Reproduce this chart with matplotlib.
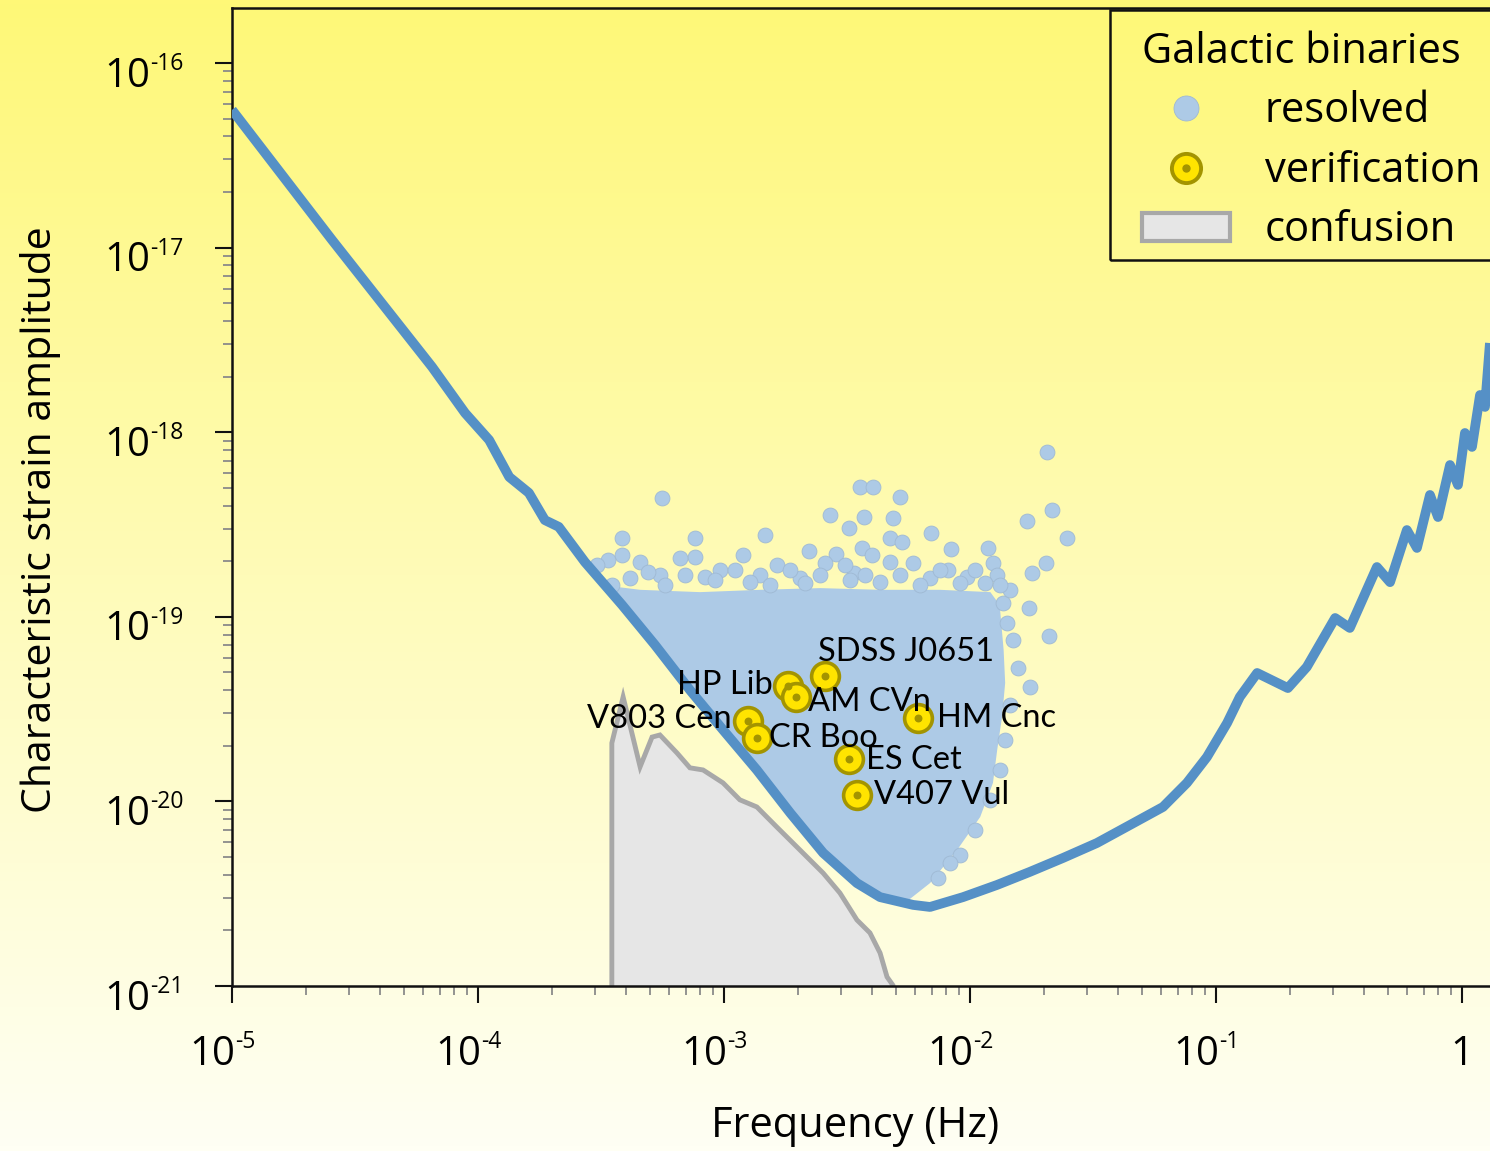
import numpy as np
import matplotlib
matplotlib.use("Agg")
import matplotlib.pyplot as plt
from matplotlib.lines import Line2D
from matplotlib.patches import Patch, Rectangle
from matplotlib.colors import LinearSegmentedColormap
from matplotlib.ticker import FixedLocator, LogLocator, NullFormatter

# LISA sensitivity curve: frequency (Hz) and characteristic strain
sens_freq = [1.00e-5, 2.55e-5, 6.50e-5, 8.86e-5, 1.11e-4, 1.34e-4, 1.61e-4, 1.87e-4,
             2.13e-4, 2.72e-4, 3.85e-4, 5.24e-4, 7.27e-4, 9.91e-4, 1.36e-3, 1.86e-3,
             2.53e-3, 3.47e-3, 4.31e-3, 5.87e-3, 6.88e-3, 9.37e-3, 1.29e-2, 1.75e-2,
             2.39e-2, 3.28e-2, 4.47e-2, 6.09e-2, 7.62e-2, 9.19e-2, 0.111, 0.125,
             0.147, 0.196, 0.234, 0.305, 0.350, 0.451, 0.510, 0.597, 0.656, 0.741,
             0.799, 0.894, 0.963, 1.028, 1.098, 1.184, 1.240, 1.299]
sens_strain = [5.57e-17, 1.10e-17, 2.26e-18, 1.27e-18, 9.07e-19, 5.72e-19, 4.69e-19, 3.34e-19,
               3.07e-19, 1.98e-19, 1.16e-19, 7.04e-20, 4.01e-20, 2.44e-20, 1.48e-20, 8.65e-21,
               5.26e-21, 3.61e-21, 3.03e-21, 2.75e-21, 2.68e-21, 3.03e-21, 3.53e-21, 4.15e-21,
               4.94e-21, 5.95e-21, 7.45e-21, 9.33e-21, 1.26e-20, 1.74e-20, 2.66e-20, 3.68e-20,
               4.96e-20, 4.11e-20, 5.35e-20, 9.85e-20, 8.70e-20, 1.86e-19, 1.54e-19, 2.95e-19,
               2.36e-19, 4.57e-19, 3.47e-19, 6.64e-19, 5.18e-19, 9.90e-19, 8.32e-19, 1.59e-18,
               1.37e-18, 3.04e-18]

# galactic confusion foreground (outline)
conf_freq = [3.50e-4, 3.50e-4, 3.89e-4, 4.56e-4, 5.10e-4, 5.49e-4, 6.44e-4, 7.27e-4,
             8.22e-4, 9.91e-4, 1.16e-3, 1.36e-3, 1.64e-3, 1.98e-3, 2.53e-3, 2.96e-3,
             3.47e-3, 3.92e-3, 4.31e-3, 4.60e-3, 4.86e-3, 5.00e-3]
conf_strain = [5e-22, 2.07e-20, 3.68e-20, 1.54e-20, 2.23e-20, 2.29e-20, 1.83e-20, 1.52e-20,
               1.48e-20, 1.26e-20, 1.02e-20, 9.33e-21, 7.26e-21, 5.66e-21, 4.09e-21, 3.19e-21,
               2.28e-21, 1.94e-21, 1.51e-21, 1.12e-21, 1.01e-21, 5e-22]

# dense part of the resolved binaries (outline of the packed cloud)
cloud_freq = [3.13e-4, 4.56e-4, 7.99e-4, 1.40e-3, 2.46e-3, 4.31e-3, 7.55e-3, 1.21e-2, 1.32e-2,
              1.37e-2, 1.39e-2, 1.35e-2, 1.29e-2, 1.24e-2, 1.10e-2, 8.86e-3, 6.88e-3, 5.44e-3,
              4.31e-3, 3.47e-3, 2.53e-3, 1.86e-3, 1.36e-3, 9.91e-4, 7.27e-4, 5.24e-4, 3.85e-4]
cloud_strain = [1.49e-19, 1.40e-19, 1.36e-19, 1.40e-19, 1.43e-19, 1.40e-19, 1.40e-19, 1.36e-19, 1.16e-19,
                6.61e-20, 4.38e-20, 2.87e-20, 1.90e-20, 1.26e-20, 8.23e-21, 5.45e-21, 3.61e-21, 2.82e-21,
                2.92e-21, 3.44e-21, 5.00e-21, 8.23e-21, 1.41e-20, 2.32e-20, 3.82e-20, 6.69e-20, 1.10e-19]

# individually visible resolved binaries
res_freq = [5.60e-4, 3.85e-4, 7.62e-4, 1.47e-3, 2.70e-3, 3.22e-3, 3.71e-3, 3.57e-3, 4.03e-3,
            5.19e-3, 4.86e-3, 4.73e-3, 5.29e-3, 6.94e-3, 8.37e-3, 1.18e-2, 1.70e-2, 2.15e-2,
            2.06e-2, 2.48e-2, 2.04e-2, 1.79e-2, 1.74e-2, 2.10e-2, 1.57e-2, 1.75e-2, 2.22e-3,
            2.85e-3, 3.64e-3, 4.00e-3, 4.73e-3, 3.38e-3, 1.19e-3, 7.62e-4, 3.85e-4, 3.38e-4,
            3.05e-4, 4.56e-4, 6.62e-4, 8.37e-4, 1.64e-3, 2.57e-3, 5.87e-3, 8.14e-3, 9.72e-3,
            1.24e-2, 1.29e-2, 1.15e-2, 1.36e-2, 1.41e-2, 9.11e-3, 8.30e-3, 7.41e-3, 5.49e-4,
            9.63e-4, 1.40e-3, 2.04e-3, 3.25e-3, 6.88e-3, 1.45e-2, 1.50e-2, 1.45e-2, 1.39e-2,
            1.32e-2, 1.21e-2, 1.05e-2,
            3.50e-4, 4.15e-4, 4.91e-4, 5.76e-4, 6.94e-4, 9.19e-4, 1.11e-3, 1.28e-3, 1.54e-3,
            1.86e-3, 2.13e-3, 2.46e-3, 3.10e-3, 3.74e-3, 4.31e-3, 5.19e-3, 6.26e-3, 7.55e-3,
            9.11e-3, 1.05e-2, 1.32e-2]
res_strain = [4.40e-19, 2.67e-19, 2.67e-19, 2.77e-19, 3.56e-19, 3.03e-19, 3.47e-19, 5.05e-19, 5.05e-19,
              4.46e-19, 3.43e-19, 2.67e-19, 2.54e-19, 2.84e-19, 2.33e-19, 2.36e-19, 3.30e-19, 3.79e-19,
              7.81e-19, 2.67e-19, 1.96e-19, 1.73e-19, 1.12e-19, 7.87e-20, 5.28e-20, 4.17e-20, 2.27e-19,
              2.19e-19, 2.36e-19, 2.16e-19, 1.98e-19, 1.73e-19, 2.16e-19, 2.11e-19, 2.16e-19, 2.03e-19,
              1.91e-19, 1.98e-19, 2.08e-19, 1.64e-19, 1.91e-19, 1.96e-19, 1.96e-19, 1.79e-19, 1.64e-19,
              1.96e-19, 1.68e-19, 1.52e-19, 1.19e-19, 9.26e-20, 5.12e-21, 4.64e-21, 3.85e-21, 1.68e-19,
              1.79e-19, 1.68e-19, 1.62e-19, 1.58e-19, 1.62e-19, 1.40e-19, 7.49e-20, 3.33e-20, 2.15e-20,
              1.48e-20, 1.02e-20, 7.00e-21,
              1.49e-19, 1.62e-19, 1.75e-19, 1.49e-19, 1.68e-19, 1.58e-19, 1.79e-19, 1.54e-19, 1.49e-19,
              1.79e-19, 1.52e-19, 1.68e-19, 1.91e-19, 1.68e-19, 1.54e-19, 1.68e-19, 1.49e-19, 1.79e-19,
              1.52e-19, 1.79e-19, 1.49e-19]

# verification binaries
ver_names = ["SDSS J0651", "HP Lib", "AM CVn", "V803 Cen", "CR Boo", "ES Cet", "V407 Vul", "HM Cnc"]
ver_freq = [2.58e-3, 1.82e-3, 1.96e-3, 1.25e-3, 1.36e-3, 3.22e-3, 3.47e-3, 6.14e-3]
ver_strain = [4.78e-20, 4.22e-20, 3.68e-20, 2.73e-20, 2.20e-20, 1.70e-20, 1.08e-20, 2.83e-20]

# axis ticks and their labels (base + superscript)
x_ticks = [1e-5, 1e-4, 1e-3, 1e-2, 1e-1, 1]
x_base = ["10", "10", "10", "10", "10", "1"]
x_exp = ["-5", "-4", "-3", "-2", "-1", ""]
y_ticks = [1e-21, 1e-20, 1e-19, 1e-18, 1e-17, 1e-16]
y_base = ["10"] * 6
y_exp = ["-21", "-20", "-19", "-18", "-17", "-16"]

# colours
curve_col = "#5590C6"
res_col = "#ADCAE6"
res_edge = "#9FB9D3"
ver_face = "#FFE400"
ver_edge = "#A39400"
conf_face = "#E6E6E6"
conf_edge = "#A8A8A8"

plt.rcParams["font.family"] = ["Open Sans", "DejaVu Sans"]

fig = plt.figure(figsize=(14.9, 11.51), dpi=100)

# yellow-to-white background over the whole figure
bg = fig.add_axes([0, 0, 1, 1], zorder=-10)
cmap = LinearSegmentedColormap.from_list("bg", ["#FFF877", "#FEFBB8", "#FFFFF4"])
bg.imshow(np.linspace(0, 1, 256).reshape(-1, 1), aspect="auto", cmap=cmap,
          extent=[0, 1, 0, 1], origin="upper")
bg.axis("off")

ax = fig.add_axes([232 / 1490, 165 / 1151, 1258 / 1490, 978 / 1151])
ax.set_facecolor("none")
ax.set_xscale("log")
ax.set_yscale("log")
ax.set_xlim(1e-5, 1.2998)
ax.set_ylim(1e-21, 1.985e-16)

ax.fill(conf_freq, conf_strain, facecolor=conf_face, edgecolor=conf_edge, lw=3.5, zorder=1)
ax.fill(cloud_freq, cloud_strain, facecolor=res_col, edgecolor="none", zorder=2)
ax.scatter(res_freq, res_strain, s=115, color=res_col, edgecolors=res_edge, linewidths=0.6, zorder=2)
ax.plot(sens_freq, sens_strain, color=curve_col, lw=7, solid_capstyle="butt",
        solid_joinstyle="round", zorder=3)

ax.scatter(ver_freq, ver_strain, s=400, color=ver_face, edgecolors=ver_edge, linewidths=2.6, zorder=4)
ax.scatter(ver_freq, ver_strain, s=22, color=ver_edge, zorder=5)

# label offsets in points from each marker
offsets = {
    "SDSS J0651": (-5, 17, "left"),
    "HP Lib": (-11, 1, "right"),
    "AM CVn": (9, -4, "left"),
    "V803 Cen": (-12, 1, "right"),
    "CR Boo": (9, 0, "left"),
    "ES Cet": (12, -1, "left"),
    "V407 Vul": (12, 0, "left"),
    "HM Cnc": (14, 0, "left"),
}
for name, f, h in zip(ver_names, ver_freq, ver_strain):
    dx, dy, ha = offsets[name]
    ax.annotate(name, (f, h), xytext=(dx, dy), textcoords="offset points",
                ha=ha, va="center", fontsize=23.5, family="Lato", zorder=6)

for s in ["left", "bottom", "top"]:
    ax.spines[s].set_linewidth(1.8)
    ax.spines[s].set_color("#111111")
ax.spines["right"].set_visible(False)

ax.xaxis.set_major_locator(FixedLocator(x_ticks))
ax.yaxis.set_major_locator(FixedLocator(y_ticks))
ax.xaxis.set_minor_locator(LogLocator(base=10, subs=np.arange(2, 10), numticks=20))
ax.yaxis.set_minor_locator(LogLocator(base=10, subs=np.arange(2, 10), numticks=20))
ax.xaxis.set_major_formatter(NullFormatter())
ax.yaxis.set_major_formatter(NullFormatter())
ax.xaxis.set_minor_formatter(NullFormatter())
ax.yaxis.set_minor_formatter(NullFormatter())
ax.tick_params(which="major", direction="out", length=12, width=1.5, color="#111111")
ax.tick_params(which="minor", direction="out", length=6.5, width=1.3, color="#8A8A8A")
ax.tick_params(axis="y", which="both", right=False)
ax.tick_params(axis="x", which="both", top=False)

# tick labels written as "10" with a small raised exponent
for v, b, e in zip(x_ticks, x_base, x_exp):
    if e:
        ax.annotate(b, (v, 0), xycoords=("data", "axes fraction"), xytext=(2, -57),
                    textcoords="offset points", ha="right", va="baseline", fontsize=29)
        ax.annotate(e, (v, 0), xycoords=("data", "axes fraction"), xytext=(2, -45),
                    textcoords="offset points", ha="left", va="baseline", fontsize=16.5)
    else:
        ax.annotate(b, (v, 0), xycoords=("data", "axes fraction"), xytext=(0, -57),
                    textcoords="offset points", ha="center", va="baseline", fontsize=29)
for v, b, e in zip(y_ticks, y_base, y_exp):
    ax.annotate(b, (0, v), xycoords=("axes fraction", "data"), xytext=(-59, -17),
                textcoords="offset points", ha="right", va="baseline", fontsize=29)
    ax.annotate(e, (0, v), xycoords=("axes fraction", "data"), xytext=(-59, -5),
                textcoords="offset points", ha="left", va="baseline", fontsize=16.5)

ax.set_xlabel("Frequency (Hz)", fontsize=30)
ax.xaxis.set_label_coords(0.4952, -0.122)
ax.set_ylabel("Characteristic strain amplitude", fontsize=29.5)
ax.yaxis.set_label_coords(-0.136, 0.4765)

# legend: frame drawn separately so it can run off the right edge
frame = Rectangle((0.698, 0.7423), 0.33, 0.2556, transform=ax.transAxes, fill=False,
                  edgecolor="#111111", lw=1.8, clip_on=False, zorder=7)
ax.add_patch(frame)

h_res = Line2D([], [], ls="none", marker="o", ms=18, mfc=res_col, mec=res_edge, mew=0.6)
h_ver = Line2D([], [], ls="none", marker="o", ms=21, mfc=ver_face, mec=ver_edge, mew=2.8)
h_dot = Line2D([], [], ls="none", marker="o", ms=5, mfc=ver_edge, mec=ver_edge)
h_conf = Patch(facecolor=conf_face, edgecolor=conf_edge, lw=3)
leg = ax.legend([h_res, (h_ver, h_dot), h_conf], ["resolved", "verification", "confusion"],
                title="Galactic binaries", loc="upper left", bbox_to_anchor=(0.7234, 0.9765),
                borderaxespad=0, borderpad=0, fontsize=30, title_fontsize=30, handlelength=2.1,
                handleheight=0.65, handletextpad=0.84, labelspacing=0.42,
                frameon=False, alignment="left")
leg.set_zorder(7)

fig.savefig("out.png", dpi=100)
